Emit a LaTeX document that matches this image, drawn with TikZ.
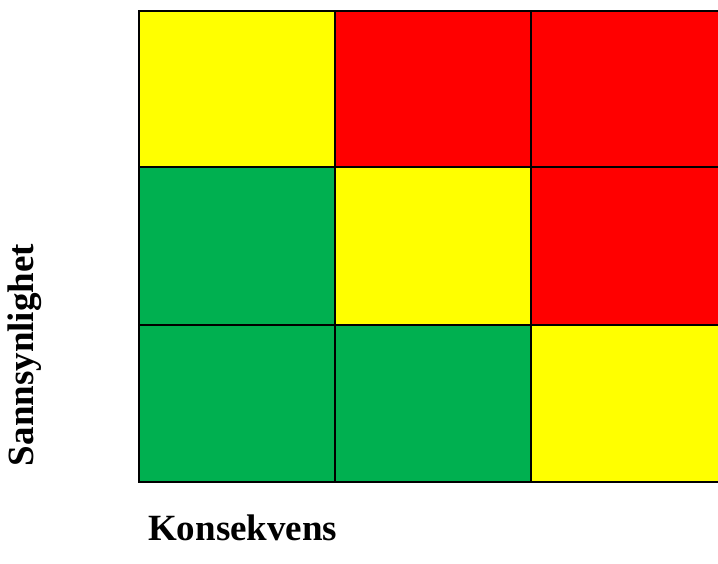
\documentclass[tikz,border=0pt]{standalone}
\usepackage{fontspec}
\setmainfont{Liberation Serif}
\definecolor{cgreen}{HTML}{00B050}
\definecolor{cyellow}{HTML}{FFFF00}
\definecolor{cred}{HTML}{FF0000}
\begin{document}
\begin{tikzpicture}[x=1pt,y=-1pt,
  cell/.style={draw=black,line width=1.5pt},
  lbl/.style={font=\fontsize{37}{40}\selectfont\bfseries,inner sep=0pt}]
\useasboundingbox (0,0) rectangle (718,563);
\clip (0,0) rectangle (718,563);
% row 1
\filldraw[cell,fill=cyellow] (139,11) rectangle (335,167);
\filldraw[cell,fill=cred] (335,11) rectangle (531,167);
\filldraw[cell,fill=cred] (531,11) rectangle (730,167);
% row 2
\filldraw[cell,fill=cgreen] (139,167) rectangle (335,325);
\filldraw[cell,fill=cyellow] (335,167) rectangle (531,325);
\filldraw[cell,fill=cred] (531,167) rectangle (730,325);
% row 3
\filldraw[cell,fill=cgreen] (139,325) rectangle (335,482);
\filldraw[cell,fill=cgreen] (335,325) rectangle (531,482);
\filldraw[cell,fill=cyellow] (531,325) rectangle (730,482);
\node[lbl,rotate=90,anchor=center] (ylab) at (25,355) {Sannsynlighet};
\node[lbl,anchor=west] (xlab) at (148,528) {Konsekvens};
\end{tikzpicture}
\end{document}
